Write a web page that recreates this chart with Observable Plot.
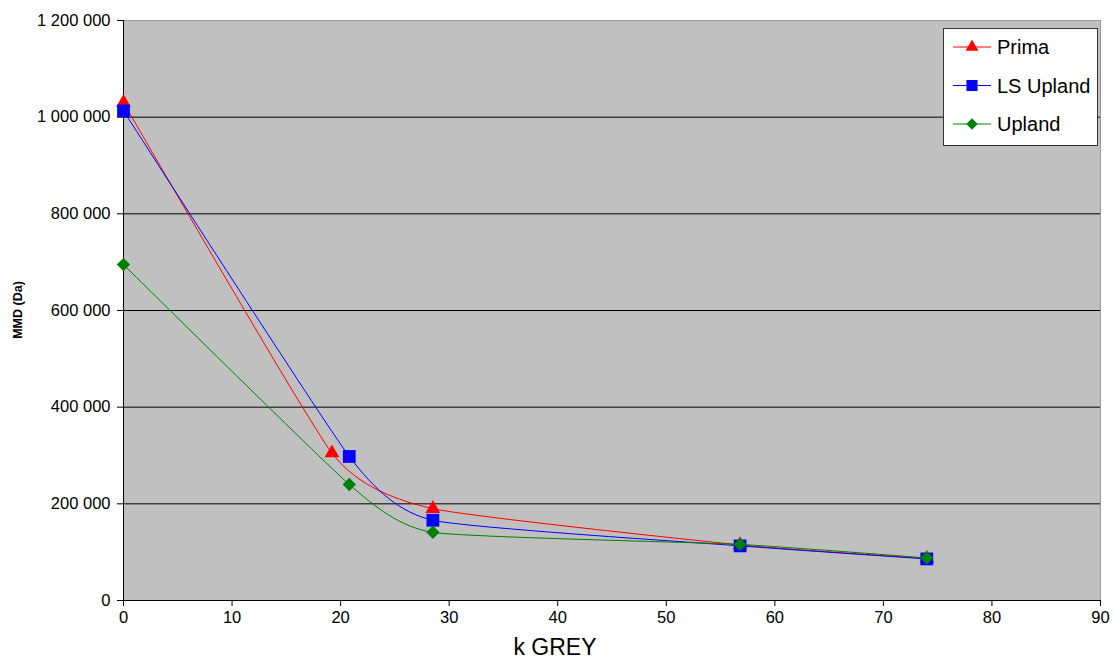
<!DOCTYPE html>
<html><head><meta charset="utf-8">
<script src="https://cdn.jsdelivr.net/npm/d3@7"></script>
<script src="https://cdn.jsdelivr.net/npm/@observablehq/plot@0.6"></script>
<style>
body{margin:0;background:#fff;font-family:"Liberation Sans",Arial,sans-serif;}
#wrap{position:relative;width:1114px;height:662px;}
#legend{position:absolute;left:943px;top:28px;width:153px;height:116px;background:#fff;border:1px solid #333;}
#xlab{position:absolute;left:455px;width:200px;top:634px;text-align:center;font-size:23px;color:#000;}
#ylab{position:absolute;left:18px;top:310px;transform:translate(-50%,-50%) rotate(-90deg);font-size:12.5px;font-weight:bold;white-space:nowrap;}
</style></head>
<body><div id="wrap"></div>
<script>
const seriesNames = ["Prima", "LS Upland", "Upland"];
const seriesColors = ["#ff0000", "#0000ff", "#008000"];
const seriesSymbols = ["triangle", "square", "diamond2"];
const symbolRadius = [5.5, 7.2, 6.0];
const primaX = [0, 19.2, 28.5, 56.8, 74];
const primaY = [1030000, 305000, 190000, 115000, 87000];
const lsUplandX = [0, 20.8, 28.5, 56.8, 74];
const lsUplandY = [1013000, 298000, 166000, 113000, 86000];
const uplandX = [0, 20.8, 28.5, 56.8, 74];
const uplandY = [695000, 240000, 141000, 116000, 88000];
const xTicks = [0, 10, 20, 30, 40, 50, 60, 70, 80, 90];
const yTicks = [0, 200000, 400000, 600000, 800000, 1000000, 1200000];

const xs = [primaX, lsUplandX, uplandX];
const ys = [primaY, lsUplandY, uplandY];
const data = [];
seriesNames.forEach((s, i) => xs[i].forEach((x, j) => data.push({series: s, x, y: ys[i][j]})));
const fmt = d => d3.format(",")(d).replace(/,/g, " ");

const chart = Plot.plot({
  width: 1114, height: 662,
  marginLeft: 123, marginRight: 14, marginTop: 20, marginBottom: 62,
  style: {fontFamily: '"Liberation Sans", Arial, sans-serif', fontSize: "16.5px", color: "#000", background: "#fff"},
  x: {domain: [0, 90], ticks: xTicks, label: null},
  y: {domain: [0, 1200000], ticks: yTicks, label: null},
  color: {domain: seriesNames, range: seriesColors},
  symbol: {domain: seriesNames, range: seriesSymbols},
  marks: [
    Plot.frame({fill: "#c0c0c0", stroke: "#999"}),
    Plot.ruleY(yTicks.filter(d => d > 0 && d < 1200000), {stroke: "#000", strokeWidth: 1}),
    Plot.ruleX([0], {stroke: "#000"}),
    Plot.ruleY([0], {stroke: "#000"}),
    Plot.axisX({ticks: xTicks, tickSize: 6, tickPadding: 5, tickFormat: d => d, label: null}),
    Plot.axisY({ticks: yTicks, tickSize: 6, tickPadding: 7, tickFormat: fmt, label: null}),
    Plot.line(data, {x: "x", y: "y", z: "series", stroke: "series", strokeWidth: 1, curve: "cardinal", tension: 0.5}),
    ...seriesNames.map((s, i) =>
      Plot.dot(data.filter(d => d.series === s), {x: "x", y: "y", symbol: "series", fill: "series", stroke: "none", r: symbolRadius[i]}))
  ]
});
const wrap = document.getElementById("wrap");
wrap.appendChild(chart);

// legend
const leg = document.createElement("div");
leg.id = "legend";
const ns = "http://www.w3.org/2000/svg";
const lsvg = document.createElementNS(ns, "svg");
lsvg.setAttribute("width", 153); lsvg.setAttribute("height", 116);
const symMap = {triangle: d3.symbolTriangle, square: d3.symbolSquare, diamond2: d3.symbolDiamond2};
seriesNames.forEach((s, i) => {
  const cy = 18 + i * 38.5;
  const g = d3.select(lsvg).append("g");
  g.append("line").attr("x1", 9).attr("x2", 47).attr("y1", cy).attr("y2", cy).attr("stroke", seriesColors[i]).attr("stroke-width", 1);
  g.append("path").attr("d", d3.symbol(symMap[seriesSymbols[i]], Math.PI * symbolRadius[i] ** 2 * 0.75)()).attr("transform", `translate(28,${cy})`).attr("fill", seriesColors[i]);
  g.append("text").attr("x", 53).attr("y", cy).attr("dy", "0.35em").attr("font-size", 20).attr("font-family", '"Liberation Sans", Arial, sans-serif').text(s);
});
leg.appendChild(lsvg);
wrap.appendChild(leg);

const xl = document.createElement("div"); xl.id = "xlab"; xl.textContent = "k GREY"; wrap.appendChild(xl);
const yl = document.createElement("div"); yl.id = "ylab"; yl.textContent = "MMD (Da)"; wrap.appendChild(yl);
</script></body></html>
